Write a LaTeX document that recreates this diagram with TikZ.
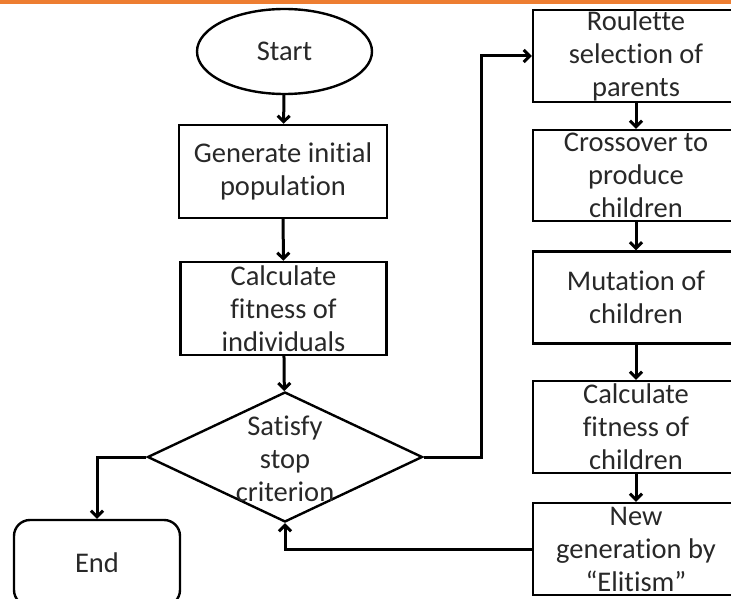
\documentclass[tikz,border=0pt]{standalone}
\usepackage{fontspec}
\setmainfont{Carlito}[Ligatures=NoCommon]
\usetikzlibrary{shapes.geometric,arrows.meta}
\definecolor{topline}{RGB}{237,125,49}
\definecolor{ink}{RGB}{40,40,40}

\begin{document}
\begin{tikzpicture}[x=1pt,y=-1pt,
	txt/.style={inner sep=0pt,align=center,text=ink,font=\fontsize{28.5}{33}\selectfont},
	box/.style={txt,draw,line width=2.4pt,minimum width=206pt,minimum height=92pt},
	terminal/.style={txt,draw,line width=2.4pt,ellipse,minimum width=175pt,minimum height=85pt},
	decision/.style={draw,line width=2.4pt,diamond,inner sep=0pt,minimum width=275pt,minimum height=130pt},
	flow/.style={line width=3pt,-{Straight Barb[length=6pt,width=12pt]}}]
	%%%%% FRAME %%%%%
	\useasboundingbox (0,0) rectangle (731,599);
	\fill[topline] (0,0) rectangle (731,4.5);
	
	%%%%% LEFT COLUMN %%%%%
	\node[terminal] (start) at (284.5,51.5) {Start};
	\node[box,minimum width=208pt,minimum height=93pt] (init) at (283,171.5) {Generate initial\\population};
	\node[box,minimum width=206pt,minimum height=93pt] (fitness) at (283.5,308.5) {Calculate\\fitness of\\individuals};
	\node[decision] (stop) at (285,457) {};
	\node[txt] (stoptext) at (285,459) {Satisfy\\stop\\criterion};
	\node[box,rounded corners=16pt,minimum width=166pt,minimum height=86pt] (finish) at (97,563) {End};
	
	%%%%% RIGHT COLUMN %%%%%
	\node[box] (select) at (636,56) {Roulette\\selection of\\parents};
	\node[box,minimum height=91pt] (cross) at (636,175.5) {Crossover to\\produce\\children};
	\node[box] (mutate) at (636,297.5) {Mutation of\\children};
	\node[box] (fitchild) at (636,427) {Calculate\\fitness of\\children};
	\node[box] (elite) at (636,549) {New\\generation by\\``Elitism''};
	
	%%%%% CONNECTORS %%%%%
	\coordinate (riser) at (481,0);
	\draw[flow] (start) -- (init);
	\draw[flow] (init) -- (fitness);
	\draw[flow] (fitness) -- (stop);
	\draw[flow] (stop.east) -| (riser |- select.west) -- (select.west);
	\draw[flow] (select) -- (cross);
	\draw[flow] (cross) -- (mutate);
	\draw[flow] (mutate) -- (fitchild);
	\draw[flow] (fitchild) -- (elite);
	\draw[flow] (elite.west) -| (stop.south);
	\draw[flow] (stop.west) -| (finish.north);
\end{tikzpicture}
\end{document}
